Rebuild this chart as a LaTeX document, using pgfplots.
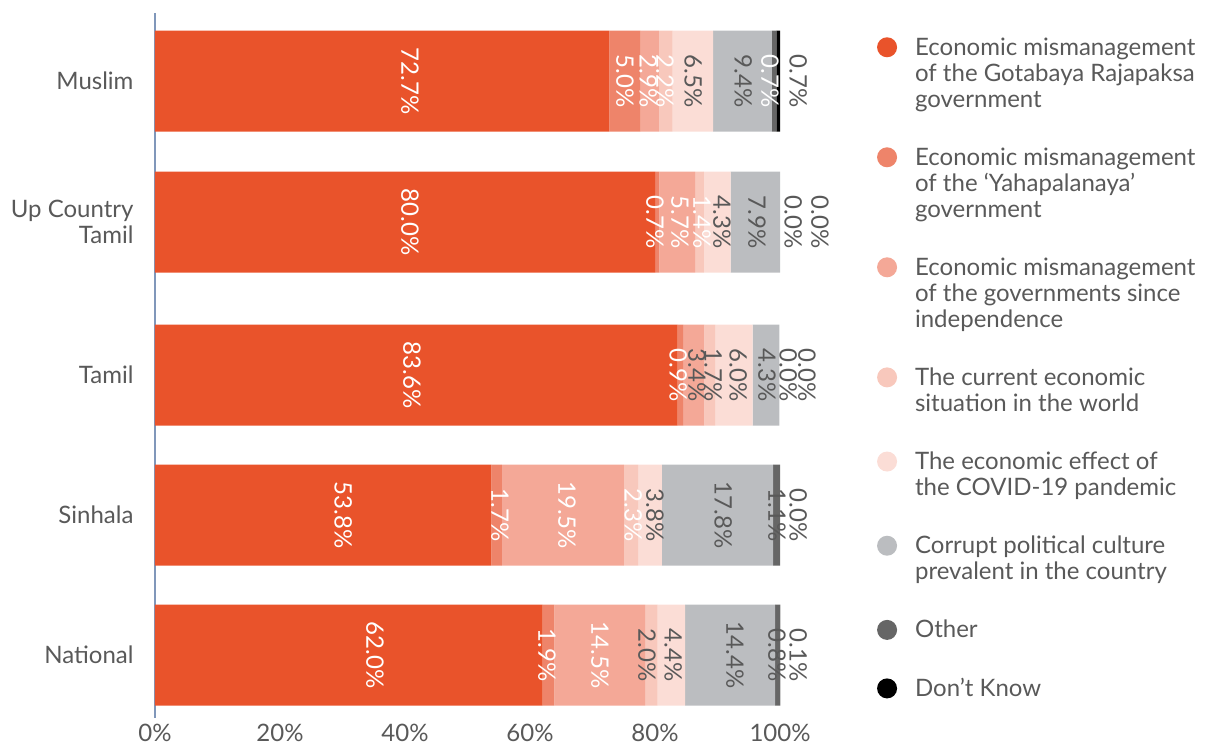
\documentclass[border=0pt]{standalone}
\usepackage{pgfplots}
\pgfplotsset{compat=1.18}
\usepackage{pgfplotstable}
\usepackage{fontspec}
\setmainfont{Lato}
\definecolor{c1}{HTML}{E9532B}
\definecolor{c2}{HTML}{EE846A}
\definecolor{c3}{HTML}{F4A897}
\definecolor{c4}{HTML}{F8C8BC}
\definecolor{c5}{HTML}{FBDDD6}
\definecolor{c6}{HTML}{BBBDC0}
\definecolor{c7}{HTML}{666666}
\definecolor{c8}{HTML}{000000}
\definecolor{txt}{HTML}{595959}
\definecolor{axc}{HTML}{8097BA}
\newcommand{\bigfont}{\fontsize{24}{26}\selectfont}

\pgfplotstableread{
y g yah ind world covid corrupt other dk
81 72.7 5.0 2.9 2.2 6.5 9.4 0.7 0.7
222 80.0 0.7 5.7 1.4 4.3 7.9 0.0 0.0
375 83.6 0.9 3.4 1.7 6.0 4.3 0.0 0.0
515 53.8 1.7 19.5 2.3 3.8 17.8 1.1 0.0
655 62.0 1.9 14.5 2.0 4.4 14.4 0.8 0.1
}\data

\pgfplotstableread{
x y v
40.8 81 72.7
75.2 81 5.0
78.9 81 2.9
81.6 81 2.2
98.4 81 0.7
40.8 222 80.0
80.0 222 0.7
84.0 222 5.7
87.5 222 1.4
41.1 375 83.6
83.7 375 0.9
30.1 515 53.8
55.2 515 1.7
65.9 515 19.5
76.5 515 2.3
35.2 655 62.0
62.7 655 1.9
71.2 655 14.5
}\labwhite

\pgfplotstableread{
x y v
86.1 81 6.5
94.1 81 9.4
102.9 81 0.7
90.7 222 4.3
96.3 222 7.9
102.1 222 0.0
106.4 222 0.0
86.7 375 3.4
89.3 375 1.7
93.3 375 6.0
97.9 375 4.3
101.3 375 0.0
104.3 375 0.0
80.0 515 3.8
90.9 515 17.8
99.5 515 1.1
102.9 515 0.0
78.7 655 2.0
82.9 655 4.4
92.8 655 14.4
99.5 655 0.8
102.9 655 0.1
}\labgray

\begin{document}
\begin{tikzpicture}
\path[use as bounding box] (0pt,0pt) rectangle (1221pt,745pt);
\begin{axis}[
  at={(155pt,27pt)}, anchor=south west,
  scale only axis, width=625pt, height=705pt,
  xmin=0, xmax=100, ymin=13, ymax=718, y dir=reverse,
  xbar stacked, bar width=101,
  axis lines*=left,
  x axis line style={draw=none},
  y axis line style={-, draw=axc, line width=1.5pt},
  tick style={draw=none},
  xtick={0,20,40,60,80,100},
  xticklabels={0\%,20\%,40\%,60\%,80\%,100\%},
  ytick={81,222,375,515,655},
  yticklabels={Muslim,{Up Country\\Tamil},Tamil,Sinhala,National},
  xticklabel style={font=\bigfont, text=txt, yshift=-3pt},
  yticklabel style={font=\bigfont, text=txt, align=right, xshift=-18pt},
  legend style={at={(1.155,0.968)}, anchor=north west, draw=none, fill=none,
    font=\bigfont, text=txt, inner sep=0pt, row sep=35pt,
    cells={anchor=west, align=left},
    /tikz/every odd column/.append style={column sep=16pt}},
]
\addplot[fill=c1, draw=none, legend image code/.code={\fill[c1] (0pt,26pt) circle (10pt);}] table[x=g, y=y] {\data};
\addlegendentry{Economic mismanagement\\of the Gotabaya Rajapaksa\\government}
\addplot[fill=c2, draw=none, legend image code/.code={\fill[c2] (0pt,26pt) circle (10pt);}] table[x=yah, y=y] {\data};
\addlegendentry{Economic mismanagement\\of the ‘Yahapalanaya’\\government}
\addplot[fill=c3, draw=none, legend image code/.code={\fill[c3] (0pt,26pt) circle (10pt);}] table[x=ind, y=y] {\data};
\addlegendentry{Economic mismanagement\\of the governments since\\independence}
\addplot[fill=c4, draw=none, legend image code/.code={\fill[c4] (0pt,13pt) circle (10pt);}] table[x=world, y=y] {\data};
\addlegendentry{The current economic\\situation in the world}
\addplot[fill=c5, draw=none, legend image code/.code={\fill[c5] (0pt,13pt) circle (10pt);}] table[x=covid, y=y] {\data};
\addlegendentry{The economic effect of\\the COVID-19 pandemic}
\addplot[fill=c6, draw=none, legend image code/.code={\fill[c6] (0pt,13pt) circle (10pt);}] table[x=corrupt, y=y] {\data};
\addlegendentry{Corrupt political culture\\prevalent in the country}
\addplot[fill=c7, draw=none, legend image code/.code={\fill[c7] (0pt,0pt) circle (10pt);}] table[x=other, y=y] {\data};
\addlegendentry{Other}
\addplot[fill=c8, draw=none, legend image code/.code={\fill[c8] (0pt,0pt) circle (10pt);}] table[x=dk, y=y] {\data};
\addlegendentry{Don’t Know}
\end{axis}
\begin{axis}[
  at={(155pt,27pt)}, anchor=south west,
  scale only axis, width=625pt, height=705pt,
  xmin=0, xmax=100, ymin=13, ymax=718, y dir=reverse,
  hide axis, clip=false,
  nodes near coords={\pgfmathprintnumber[fixed,fixed zerofill,precision=1,assume math mode=true]{\pgfplotspointmeta}\%},
  nodes near coords style={rotate=-90, anchor=center, font=\bigfont, inner sep=0pt},
]
\addplot[only marks, mark=none, point meta=explicit, nodes near coords style={text=white}] table[x=x, y=y, meta=v] {\labwhite};
\addplot[only marks, mark=none, point meta=explicit, nodes near coords style={text=txt}] table[x=x, y=y, meta=v] {\labgray};
\end{axis}
\end{tikzpicture}
\end{document}
